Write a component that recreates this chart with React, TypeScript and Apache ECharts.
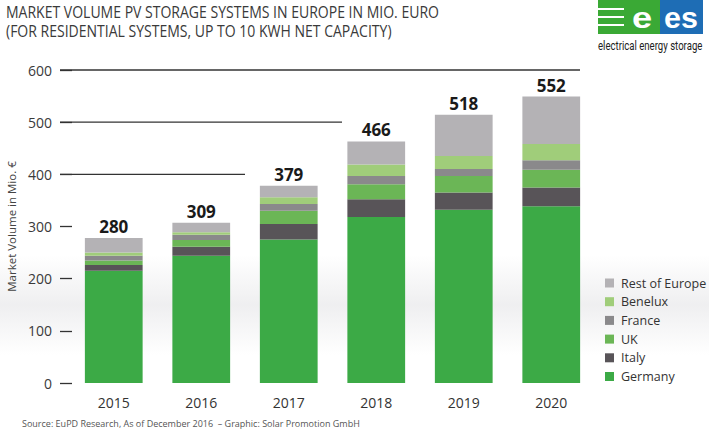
import React, { useEffect, useRef } from "react";
import * as echarts from "echarts";

const years = ["2015", "2016", "2017", "2018", "2019", "2020"];
const germany = [215, 244, 275, 318, 332, 339];
const italy = [11, 17, 30, 34, 33, 36];
const uk = [9, 13, 25, 29, 32, 34];
const france = [9, 10, 13, 16, 13, 18];
const benelux = [6, 5, 13, 22, 25, 31];
const restOfEurope = [28, 18, 22, 44, 79, 91];
const totals = [280, 309, 379, 466, 518, 552];
const yTicks = [0, 100, 200, 300, 400, 500, 600];
// long guide lines: [value, end x]
const guideLines: [number, number][] = [
  [600, 580],
  [500, 342],
  [400, 245],
];

const seriesDefs = [
  { name: "Germany", data: germany, color: "#3caa46" },
  { name: "Italy", data: italy, color: "#585458" },
  { name: "UK", data: uk, color: "#6bb656" },
  { name: "France", data: france, color: "#8a898b" },
  { name: "Benelux", data: benelux, color: "#a0cd7a" },
  { name: "Rest of Europe", data: restOfEurope, color: "#b4b2b5" },
];

const FONT = "'Open Sans', 'Noto Sans', sans-serif";

export default function App() {
  const ref = useRef<HTMLDivElement>(null);
  useEffect(() => {
    if (!ref.current) return;
    const chart = echarts.init(ref.current, null, { renderer: "svg" });
    const option: any = {
      animation: false,
      backgroundColor: "#ffffff",
      textStyle: { fontFamily: FONT },
      grid: { left: 70, right: 114, top: 70, bottom: 58, containLabel: false, outerBoundsMode: "none" },
      legend: {
        data: [...seriesDefs].reverse().map((s) => s.name),
        orient: "vertical",
        left: 600,
        top: 270,
        itemWidth: 9,
        itemHeight: 9,
        itemGap: 2.7,
        icon: "rect",
        textStyle: {
          fontFamily: FONT,
          fontSize: 12.5,
          color: "#333",
          lineHeight: 16,
          padding: [0, 0, 0, 2],
        },
      },
      xAxis: {
        type: "category",
        data: years,
        axisLine: { show: false },
        axisTick: { show: false },
        axisLabel: { color: "#333", fontSize: 14, fontFamily: FONT, margin: 12 },
      },
      yAxis: {
        type: "value",
        min: 0,
        max: 600,
        interval: 100,
        offset: 10,
        name: "Market Volume in Mio. €",
        nameLocation: "middle",
        nameRotate: 90,
        nameGap: 43,
        nameTextStyle: { color: "#444", fontSize: 11.5, fontFamily: FONT },
        axisLine: { show: false },
        axisTick: { show: true, inside: true, length: 12, lineStyle: { color: "#333", width: 1.3 } },
        splitLine: { show: false },
        axisLabel: {
          color: "#3a3a3a",
          fontSize: 14,
          fontFamily: FONT,
          margin: 8,
          customValues: yTicks,
        },
      },
      series: seriesDefs.map((s, i) => ({
        name: s.name,
        type: "bar",
        stack: "total",
        barWidth: "66%",
        data: s.data,
        itemStyle: { color: s.color },
        label:
          i === seriesDefs.length - 1
            ? {
                show: true,
                position: "top",
                distance: 3,
                formatter: (p: any) => String(totals[p.dataIndex]),
                fontFamily: FONT,
                fontWeight: "bold",
                fontSize: 17,
                color: "#1a1a1a",
              }
            : { show: false },
      })),
    };
    chart.setOption(option);

    const lines = guideLines.map(([v, endX]) => {
      const y = chart.convertToPixel({ yAxisIndex: 0 }, v) as number;
      return {
        type: "line",
        shape: { x1: 60, y1: y, x2: endX, y2: y },
        style: { stroke: "#333", lineWidth: 1.3 },
        z: 5,
      };
    });

    chart.setOption({
      graphic: [
        {
          type: "rect",
          shape: { x: 0, y: 255, width: 709, height: 100 },
          style: {
            fill: new echarts.graphic.LinearGradient(0, 0, 0, 1, [
              { offset: 0, color: "rgba(232,232,234,0)" },
              { offset: 0.5, color: "rgba(232,232,234,0.7)" },
              { offset: 1, color: "rgba(232,232,234,0)" },
            ]),
          },
          z: -10,
          silent: true,
        },
        ...lines,
        {
          type: "text",
          left: 6,
          top: 2,
          style: {
            text: "MARKET VOLUME PV STORAGE SYSTEMS IN EUROPE IN MIO. EURO\n(FOR RESIDENTIAL SYSTEMS, UP TO 10 KWH NET CAPACITY)",
            fontFamily: FONT,
            fontSize: 16.5,
            lineHeight: 19,
            fill: "#3a3a3a",
          },
          scaleX: 0.85,
        },
        {
          type: "text",
          left: 22,
          top: 419,
          style: {
            text: "Source: EuPD Research, As of December 2016  – Graphic: Solar Promotion GmbH",
            fontFamily: FONT,
            fontSize: 9,
            fill: "#555",
          },
        },
        {
          type: "group",
          left: 598,
          top: 0,
          children: [
            { type: "rect", shape: { x: 0, y: 0, width: 62, height: 34 }, style: { fill: "#3aa935" } },
            { type: "rect", shape: { x: 62, y: 0, width: 43, height: 34 }, style: { fill: "#1e6db5" } },
            { type: "rect", shape: { x: 0, y: 8, width: 26, height: 2 }, style: { fill: "#fff" } },
            { type: "rect", shape: { x: 0, y: 16, width: 26, height: 2 }, style: { fill: "#fff" } },
            { type: "rect", shape: { x: 0, y: 24, width: 26, height: 2 }, style: { fill: "#fff" } },
            {
              type: "text",
              x: 44,
              y: 18,
              style: {
                text: "e",
                fontFamily: "'Liberation Sans', Arial, sans-serif",
                fontWeight: "bold",
                fontSize: 29,
                lineHeight: 29,
                fill: "#fff",
                align: "center",
                verticalAlign: "middle",
              },
              scaleX: 1.25,
            },
            {
              type: "text",
              x: 83,
              y: 18,
              style: {
                text: "es",
                fontFamily: "'Liberation Sans', Arial, sans-serif",
                fontWeight: "bold",
                fontSize: 29,
                lineHeight: 29,
                fill: "#fff",
                align: "center",
                verticalAlign: "middle",
              },
              scaleX: 1.05,
            },
            {
              type: "text",
              x: 0,
              y: 46,
              style: {
                text: "electrical energy storage",
                fontFamily: "Roboto, sans-serif",
                fontSize: 12,
                fill: "#222",
                verticalAlign: "middle",
              },
              scaleX: 0.8,
            },
          ],
        },
      ],
    });

    return () => chart.dispose();
  }, []);
  return (
    <div
      ref={ref}
      style={{ position: "fixed", left: 0, top: 0, width: 709, height: 441 }}
    />
  );
}
